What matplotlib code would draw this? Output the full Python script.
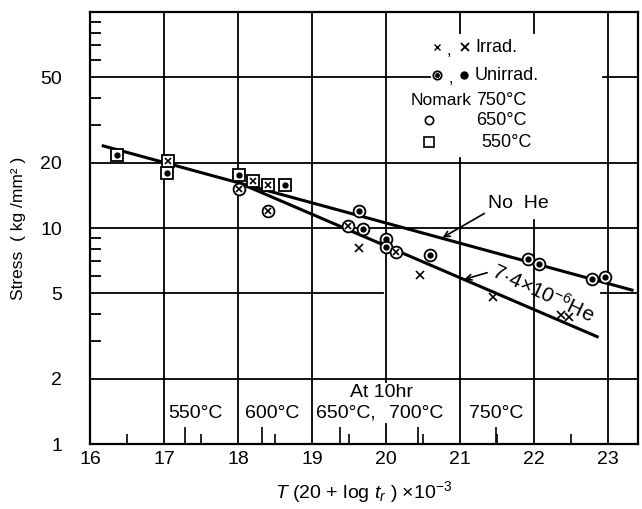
import numpy as np
import matplotlib
matplotlib.use('Agg')
import matplotlib.pyplot as plt

plt.rcParams['font.family'] = ['Liberation Sans', 'DejaVu Sans']
plt.rcParams['mathtext.fontset'] = 'custom'
plt.rcParams['mathtext.rm'] = 'Liberation Sans'
plt.rcParams['mathtext.it'] = 'Liberation Sans:italic'

# --- data ---
# 550C squares
sq_unirr_x = [16.37, 17.04, 18.01, 18.64]
sq_unirr_y = [21.8, 17.9, 17.6, 15.9]
sq_irr_x = [17.05, 18.20, 18.41]
sq_irr_y = [20.5, 16.5, 15.9]
# 650C circles
ci_unirr_x = [19.64, 19.69, 20.00, 20.00, 20.59, 21.92, 22.07, 22.78, 22.96]
ci_unirr_y = [12.0, 9.86, 8.87, 8.15, 7.52, 7.17, 6.81, 5.79, 5.91]
ci_irr_x = [18.02, 18.41, 19.49, 20.13]
ci_irr_y = [15.1, 12.0, 10.25, 7.72]
# 750C no mark, irradiated
x750_x = [19.64, 20.46, 21.45, 22.36, 22.47]
x750_y = [8.05, 6.06, 4.78, 3.96, 3.86]

# fitted lines
nohe_x = [16.18, 23.32]
nohe_y = [24.0, 5.16]
he_x = [18.14, 22.85]
he_y = [15.5, 3.14]

xticks = [16, 17, 18, 19, 20, 21, 22, 23]
yticks = [1, 2, 5, 10, 20, 50]
ytick_labels = ['1', '2', '5', '10', '20', '50']

# T(20+log t) at 10 hr for each temperature
temp_pos = [17.28, 18.33, 19.38, 20.43, 21.48]
temp_lbl_x = [17.43, 18.46, 19.46, 20.41, 21.49]
temp_lbl = ['550°C', '600°C', '650°C,', '700°C', '750°C']
half_ticks = [16.5, 17.5, 18.5, 19.5, 20.5, 21.5, 22.5]

fig = plt.figure(figsize=(6.42, 5.09), dpi=100)
ax = fig.add_axes([0.140, 0.1277, 0.8536, 0.8487])
ax.set_yscale('log')
ax.set_xlim(16, 23.4)
ax.set_ylim(1, 100)

for s in ax.spines.values():
    s.set_linewidth(1.6)

ax.set_xticks(xticks)
ax.set_xticklabels([str(v) for v in xticks], fontsize=14)
ax.set_yticks(yticks)
ax.set_yticklabels(ytick_labels, fontsize=14)
ax.yaxis.set_minor_locator(matplotlib.ticker.LogLocator(subs=[3, 4, 6, 7, 8, 9]))
ax.yaxis.set_minor_formatter(matplotlib.ticker.NullFormatter())
ax.xaxis.set_minor_locator(matplotlib.ticker.NullLocator())
ax.tick_params(axis='both', which='major', length=0)
ax.tick_params(axis='x', which='major', pad=5)
ax.tick_params(axis='y', which='major', pad=20)
ax.tick_params(axis='y', which='minor', direction='in', length=8, width=1.3)

# grid segments (broken where text sits)
gkw = dict(color='k', lw=1.3, zorder=1)
vg = [(17, 0, 1), (18, 0, 1), (19, 0, 1), (20, 0, 0.046), (20, 0.1435, 1),
      (21, 0, 0.662), (21, 0.951, 1), (22, 0, 0.5185), (22, 0.951, 1), (23, 0, 1)]
for xv, lo, hi in vg:
    ax.axvline(xv, lo, hi, **gkw)
hg = [(2, 0, 1), (5, 0, 0.535), (5, 0.9325, 1), (10, 0, 1), (20, 0, 1),
      (50, 0, 0.620), (50, 0.936, 1)]
for yv, lo, hi in hg:
    ax.axhline(yv, lo, hi, **gkw)

# bottom ticks
ax.vlines(half_ticks, 1, 10 ** (10 / 216), color='k', lw=1.2)
ax.vlines(temp_pos, 1, 10 ** (17 / 216), color='k', lw=1.2)
for xp, t in zip(temp_lbl_x, temp_lbl):
    ax.text(xp, 1.39, t, ha='center', va='center', fontsize=14)
ax.text(19.94, 1.74, 'At 10hr', ha='center', va='center', fontsize=14)

# lines
ax.plot(nohe_x, nohe_y, color='k', lw=2.2, zorder=3)
ax.plot(he_x, he_y, color='k', lw=2.2, zorder=3)

# markers
okw = dict(ls='none', mfc='white', mec='k', mew=1.3, ms=8.5, zorder=4)
ikw = dict(ls='none', color='k', zorder=5)
ax.plot(sq_unirr_x, sq_unirr_y, marker='s', **okw)
ax.plot(sq_unirr_x, sq_unirr_y, marker='o', ms=3.5, **ikw)
ax.plot(sq_irr_x, sq_irr_y, marker='s', **okw)
ax.plot(sq_irr_x, sq_irr_y, marker='x', ms=5, mew=1.2, **ikw)
ax.plot(ci_unirr_x, ci_unirr_y, marker='o', **okw)
ax.plot(ci_unirr_x, ci_unirr_y, marker='o', ms=3.5, **ikw)
ax.plot(ci_irr_x, ci_irr_y, marker='o', **okw)
ax.plot(ci_irr_x, ci_irr_y, marker='x', ms=5, mew=1.2, **ikw)
ax.plot(x750_x, x750_y, marker='x', ms=6, mew=1.2, **ikw)

# annotations
ax.text(21.78, 13.05, 'No  He', ha='center', va='center', fontsize=14)
ax.annotate('', xy=(20.73, 8.9), xytext=(21.36, 11.86),
            arrowprops=dict(arrowstyle='->', color='k', lw=1.2))
ax.text(22.12, 5.0, '7·4×10$^{-6}$He', ha='center', va='center',
        fontsize=15, rotation=-25, rotation_mode='anchor')
ax.annotate('', xy=(21.02, 5.74), xytext=(21.4, 6.26),
            arrowprops=dict(arrowstyle='->', color='k', lw=1.2))

# legend block
tr = ax.transAxes
def fx(px):
    return (px - 90) / 548
def fy(py):
    return (444 - py) / 432
ax.plot([fx(437)], [fy(47)], marker='x', ms=4, mew=1, transform=tr, **ikw)
ax.text(fx(449), fy(50), ',', transform=tr, fontsize=12, ha='center', va='center')
ax.plot([fx(465)], [fy(47)], marker='x', ms=5.5, mew=1.3, transform=tr, **ikw)
ax.text(fx(475), fy(47), 'Irrad.', transform=tr, fontsize=13, va='center')
ax.plot([fx(437)], [fy(75)], marker='o', ms=6, mfc='white', mec='k', mew=1.3,
        ls='none', transform=tr, zorder=5)
ax.plot([fx(437)], [fy(75)], marker='o', ms=2.5, transform=tr, **ikw)
ax.text(fx(451), fy(78), ',', transform=tr, fontsize=12, ha='center', va='center')
ax.plot([fx(464)], [fy(75)], marker='o', ms=5, transform=tr, **ikw)
ax.text(fx(475), fy(75), 'Unirrad.', transform=tr, fontsize=13, va='center')
ax.text(fx(411), fy(100), 'Nomark', transform=tr, fontsize=12.5, va='center')
ax.text(fx(476), fy(100), '750°C', transform=tr, fontsize=13, va='center')
ax.plot([fx(429)], [fy(120)], marker='o', ms=6, mfc='white', mec='k', mew=1.2,
        ls='none', transform=tr, zorder=5)
ax.text(fx(476), fy(120), '650°C', transform=tr, fontsize=13, va='center')
ax.plot([fx(429)], [fy(142)], marker='s', ms=7, mfc='white', mec='k', mew=1.2,
        ls='none', transform=tr, zorder=5)
ax.text(fx(481), fy(142), '550°C', transform=tr, fontsize=13, va='center')

ax.set_ylabel('Stress  ( kg /mm² )', fontsize=12.5, labelpad=10)
ax.set_xlabel('$T$ (20 + log $t_r$ ) ×10$^{-3}$', fontsize=14, labelpad=8)

fig.savefig('out.png', dpi=100)
